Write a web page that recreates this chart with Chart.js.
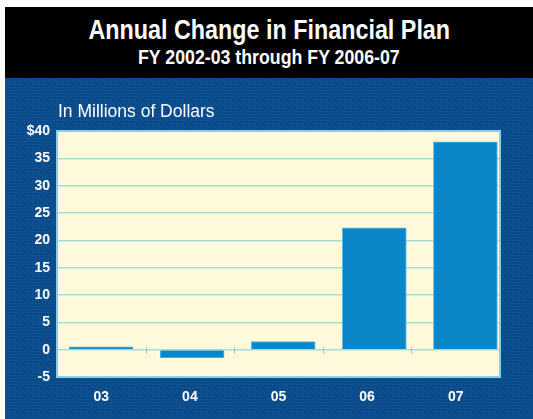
<!DOCTYPE html>
<html>
<head>
<meta charset="utf-8">
<script src="https://cdn.jsdelivr.net/npm/chart.js@4.4.0/dist/chart.umd.min.js"></script>
<style>
  html, body { margin: 0; padding: 0; background: #fff; width: 533px; height: 419px; overflow: hidden; }
  #header {
    position: absolute; left: 5px; top: 7px; width: 528px; height: 71px;
    background: #000; color: #fff; text-align: center;
    font-family: 'Liberation Sans', Arial, sans-serif; font-weight: bold;
  }
  #header div { position: absolute; left: 0; right: 0; }
  #header span { display: inline-block; transform-origin: center; white-space: nowrap; }
  #header .t1 { top: 8px; font-size: 27px; line-height: 30px; }
  #header .t2 { top: 38px; font-size: 21px; line-height: 24px; }
  #panel { position: absolute; left: 5px; top: 78px; width: 528px; height: 341px; }
  #unit {
    position: absolute; left: 58px; top: 101px; color: #fff;
    font-family: 'Liberation Sans', Arial, sans-serif; font-size: 17.5px;
  }
</style>
</head>
<body>
<div id="header">
  <div class="t1"><span data-w="362">Annual Change in Financial Plan</span></div>
  <div class="t2"><span data-w="262">FY 2002-03 through FY 2006-07</span></div>
</div>
<div id="panel"><canvas id="chart" width="528" height="341"></canvas></div>
<div id="unit">In Millions of Dollars</div>
<script>
const years = ['03', '04', '05', '06', '07'];
const changes = [0.5, -1.5, 1.5, 22.3, 38];
const yTicks = [-5, 0, 5, 10, 15, 20, 25, 30, 35, 40];

// condensed look for the heading
document.querySelectorAll('#header span').forEach(s => {
  s.style.transform = 'scaleX(' + (s.dataset.w / s.offsetWidth) + ')';
});

// dotted blue backdrop + cream plot area
const backdrop = {
  id: 'backdrop',
  beforeDraw(chart) {
    const { ctx, width, height, chartArea: a } = chart;
    ctx.save();
    ctx.fillStyle = '#0a4b8c';
    ctx.fillRect(0, 0, width, height);
    ctx.fillStyle = 'rgba(60,120,180,0.35)';
    for (let y = 0; y < height; y += 3) {
      for (let x = (y / 3) % 2 ? 1 : 0; x < width; x += 3) ctx.fillRect(x, y, 1, 1);
    }
    ctx.fillStyle = '#fffadc';
    ctx.fillRect(a.left, a.top, a.right - a.left, a.bottom - a.top);
    ctx.restore();
  },
  afterDatasetsDraw(chart) {
    const { ctx, chartArea: a, scales: { x, y } } = chart;
    ctx.save();
    // small category ticks on the zero line
    const y0 = y.getPixelForValue(0);
    ctx.strokeStyle = '#8fcfc8';
    ctx.lineWidth = 1;
    for (let i = 0; i < years.length - 1; i++) {
      const px = Math.round((x.getPixelForValue(i) + x.getPixelForValue(i + 1)) / 2) + 0.5;
      ctx.beginPath();
      ctx.moveTo(px, y0 - 3);
      ctx.lineTo(px, y0 + 4);
      ctx.stroke();
    }
    // plot border
    ctx.strokeStyle = '#7fd3ee';
    ctx.lineWidth = 2;
    ctx.strokeRect(a.left, a.top, a.right - a.left, a.bottom - a.top);
    ctx.restore();
  }
};

new Chart(document.getElementById('chart'), {
  type: 'bar',
  data: {
    labels: years,
    datasets: [{
      data: changes.map((v, i) => ({ x: i, y: v })),
      xAxisID: 'xb',
      backgroundColor: '#0a87c9',
      borderColor: '#5cbbe6',
      borderWidth: 1,
      barThickness: 64
    }]
  },
  options: {
    responsive: false,
    animation: false,
    layout: { padding: { left: 0, top: 53, right: 33, bottom: 0 } },
    plugins: { legend: { display: false }, tooltip: { enabled: false } },
    scales: {
      // bars sit on a slightly wider spacing than the labels in the original
      xb: { type: 'linear', display: false, offset: false, min: -0.483, max: 4.38 },
      x: {
        type: 'category',
        grid: { display: false },
        border: { display: false },
        ticks: { color: '#fff', font: { family: 'Liberation Sans', size: 14, weight: 'bold' }, padding: 4 },
        afterFit(s) { s.height = 42; }
      },
      y: {
        min: -5,
        max: 40,
        afterBuildTicks(s) { s.ticks = yTicks.map(v => ({ value: v })); },
        grid: { color: '#a9dbd3', lineWidth: 1.5, drawTicks: false },
        border: { display: false },
        ticks: {
          color: '#fff',
          font: { family: 'Liberation Sans', size: 14, weight: 'bold' },
          padding: 7,
          callback: v => v === 40 ? '$40' : v
        },
        afterFit(s) { s.width = 52; }
      }
    }
  },
  plugins: [backdrop]
});
</script>
</body>
</html>
